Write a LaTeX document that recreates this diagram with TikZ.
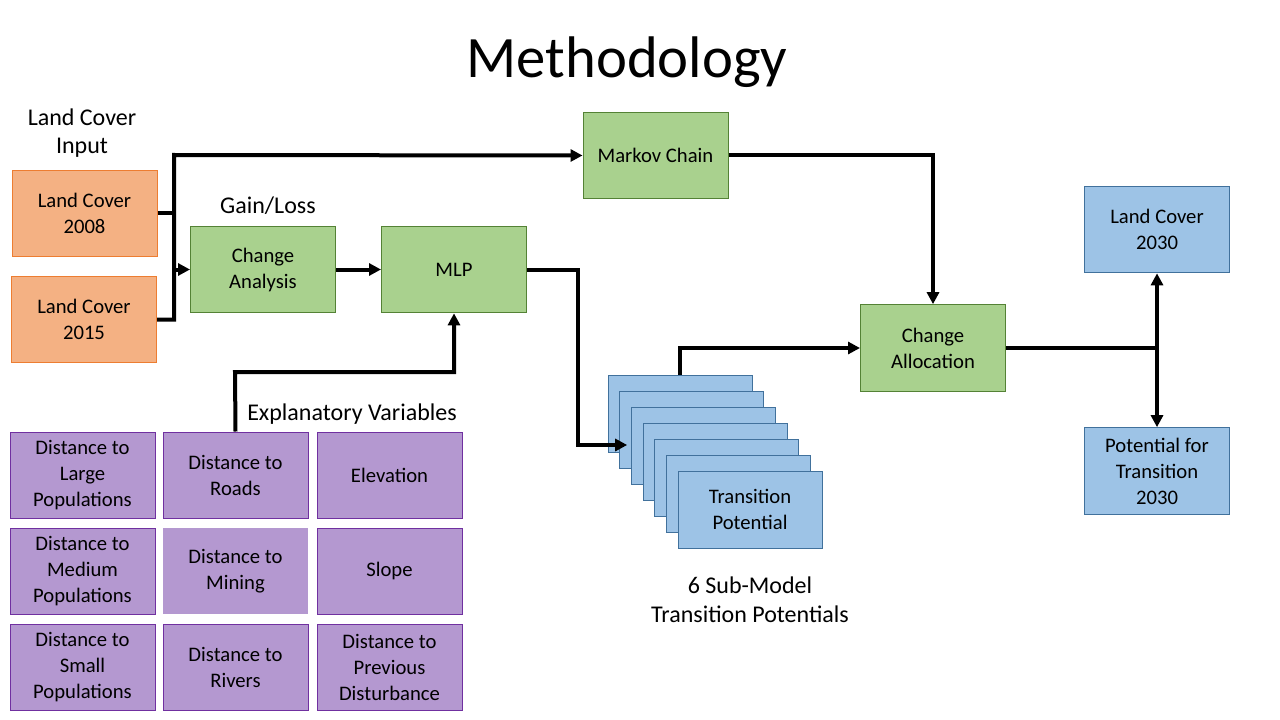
\documentclass[tikz,border=0pt]{standalone}
\usepackage{fontspec}
\setmainfont{Carlito}
\usetikzlibrary{positioning,arrows.meta}

\definecolor{orfill}{RGB}{244,177,131}
\definecolor{ordraw}{RGB}{237,125,49}
\definecolor{grfill}{RGB}{169,209,142}
\definecolor{grdraw}{RGB}{84,130,53}
\definecolor{blfill}{RGB}{157,195,230}
\definecolor{bldraw}{RGB}{65,113,156}
\definecolor{pufill}{RGB}{180,152,208}
\definecolor{pudraw}{RGB}{112,48,160}

\begin{document}
\begin{tikzpicture}
[
x=0.75pt, y=-0.75pt,
box/.style={align=center, inner sep=0pt, line width=0.75pt, minimum width=108.75pt, minimum height=65pt, font=\fontsize{15.5}{19.5}\selectfont},
inputbox/.style={box, fill=orfill, draw=ordraw},
procbox/.style={box, fill=grfill, draw=grdraw},
outbox/.style={box, fill=blfill, draw=bldraw},
stackbox/.style={box, fill=blfill, draw=bldraw, minimum width=108pt, minimum height=57.75pt},
varbox/.style={box, fill=pufill, draw=pudraw, minimum height=64.5pt},
label/.style={align=center, font=\fontsize{18}{21.5}\selectfont},
line/.style={line width=3pt},
arr/.style={line, -{Triangle[length=9pt,width=9pt]}},
]
\useasboundingbox (0,0) rectangle (1280,720);

\node[font=\fontsize{44}{50}\selectfont] (title) at (627,62) {Methodology};

% inputs
\node[label] (inlabel) at (82,133) {Land Cover\\Input};
\node[inputbox] (lc08) at (84.5,213.5) {Land Cover\\2008};
\node[inputbox] (lc15) at (84,319.5) {Land Cover\\2015};

% models
\node[label] (gain) at (268,206) {Gain/Loss};
\node[procbox] (change) at (263,269.5) {Change\\Analysis};
\node[procbox] (mlp) at (454,269.5) {MLP};
\node[procbox] (markov) at (655.5,155.5) {Markov Chain};
\node[procbox] (alloc) at (933,348) {Change\\Allocation};

% outputs
\node[outbox] (lc30) at (1157,229.5) {Land Cover\\2030};
\node[outbox] (pot) at (1157,471) {Potential for\\Transition\\2030};

% sub-model stack
\foreach \i in {0,...,5}
  \node[stackbox] (tp\i) at ({680+\i*11.67},{413.5+\i*16}) {};
\node[stackbox] (tp6) at (750,509.5) {Transition\\Potential};
\node[label] (sublabel) at (750,600) {6 Sub-Model\\Transition Potentials};

% explanatory variables
\node[label] (explabel) at (352,414) {Explanatory Variables};
\node[varbox] (dlarge) at (82.5,475) {Distance to\\Large\\Populations};
\node[varbox] (droads) at (235.5,475) {Distance to\\Roads};
\node[varbox] (elev) at (389.5,475) {Elevation};
\node[varbox] (dmed) at (82.5,571) {Distance to\\Medium\\Populations};
\node[varbox, draw=none] (dmine) at (235.5,571) {Distance to\\Mining};
\node[varbox] (slope) at (389.5,571) {Slope};
\node[varbox] (dsmall) at (82.5,667) {Distance to\\Small\\Populations};
\node[varbox] (drivers) at (235.5,667) {Distance to\\Rivers};
\node[varbox] (ddist) at (389.5,667) {Distance to\\Previous\\Disturbance};

% connectors
\coordinate (j1) at (174,155);
\coordinate (c1) at (578,445);
\coordinate (c2) at (235,372);
\coordinate (c3) at (1157,348);
\draw[line] (lc08.east) -- (lc08.east -| j1);
\draw[arr] (lc15.east) -| (j1) -- (markov.west);
\draw[arr] (change.west -| j1) -- (change.west);
\draw[arr] (change.east) -- (mlp.west);
\draw[arr] (mlp.east) -| (c1) -- ([xshift=6pt]tp1.west |- c1);
\draw[arr] (droads.north) -- (c2) -| (mlp.south);
\draw[arr] (tp0.north) |- (alloc.west);
\draw[arr] (markov.east) -| (alloc.north);
\draw[line] (alloc.east) -- (c3);
\draw[arr] (c3) -- (lc30.south);
\draw[arr] (c3) -- (pot.north);
\end{tikzpicture}
\end{document}
